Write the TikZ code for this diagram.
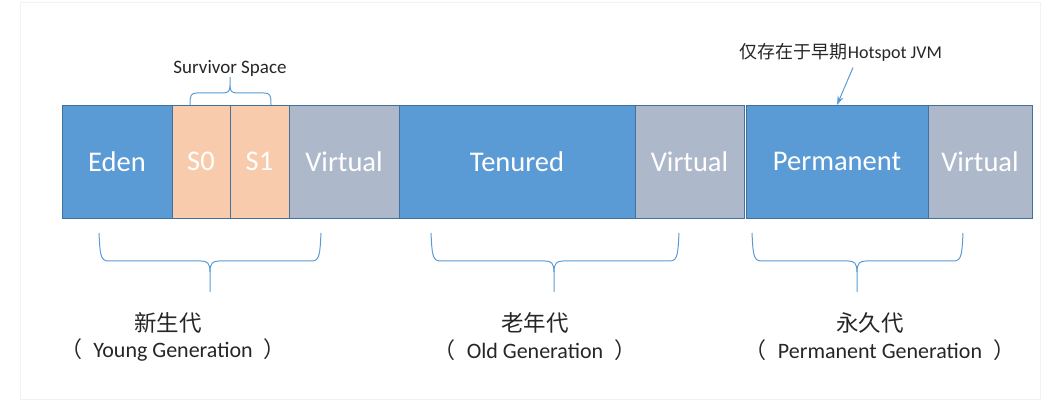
\documentclass[tikz,border=0pt]{standalone}
\usepackage{fontspec}
\setmainfont{Carlito}
\newfontfamily\cjk{Noto Sans CJK SC}
\usepackage{tikz}
\usetikzlibrary{arrows.meta, positioning}

\definecolor{heapblue}{HTML}{5B9BD5}
\definecolor{heapedge}{HTML}{41719C}
\definecolor{survpeach}{HTML}{F8CBAD}
\definecolor{virtgray}{HTML}{ADB9CA}
\definecolor{labeltext}{HTML}{262626}

\tikzset{
  area/.style={draw=heapedge, line width=0.9pt, inner sep=0pt, outer sep=0pt, minimum height=113pt,
    text=white, font=\fontsize{28.5}{33}\selectfont},
  brc/.style={draw=heapblue, line width=1pt},
  arr/.style={draw=heapblue, line width=1pt, -{Stealth[length=9pt,width=6pt]}},
  genzh/.style={text=labeltext, font=\cjk\fontsize{22.5}{26}\selectfont},
  genen/.style={text=labeltext, font=\fontsize{22}{26}\selectfont},
}

\begin{document}
\begin{tikzpicture}[x=1pt, y=-1pt]
    \useasboundingbox (0,0) rectangle (1058,411);
    \draw[black!5, line width=1pt] (20,3) rectangle (1040,400);

    % Heap areas
    \node[area, fill=heapblue, minimum width=110pt, anchor=north west] (eden) at (62,105) {Eden};
    \node[area, fill=survpeach, minimum width=58pt, right=0pt of eden] (s0) {S0};
    \node[area, fill=survpeach, minimum width=59pt, right=0pt of s0] (s1) {S1};
    \node[area, fill=virtgray, minimum width=110pt, right=0pt of s1] (virtyoung) {Virtual};
    \node[area, fill=heapblue, minimum width=236pt, right=0pt of virtyoung] (tenured) {Tenured};
    \node[area, fill=virtgray, minimum width=109pt, right=0pt of tenured] (virtold) {Virtual};
    \node[area, fill=heapblue, minimum width=182pt, right=2pt of virtold] (perm) {Permanent};
    \node[area, fill=virtgray, minimum width=104pt, right=0pt of perm] (virtperm) {Virtual};

    % Survivor brace
    \node[text=labeltext, font=\fontsize{19}{22}\selectfont] (survlbl) at (230,68) {Survivor Space};
    \draw[brc] (190,105) .. controls (190,95) and (191,93) .. (197,93) -- (223,93)
        .. controls (228,93) and (230,91) .. (230,86) -- (230,77);
    \draw[brc] (230,86) .. controls (230,91) and (232,93) .. (237,93) -- (264,93)
        .. controls (270,93) and (271,95) .. (271,105);

    % Note on permanent generation
    \node[font=\fontsize{18}{21}\selectfont, text=labeltext] (note) at (841,52) {{\cjk 仅存在于早期}Hotspot JVM};
    \draw[arr] ([xshift=12pt,yshift=-3pt]note.south) -- (perm.north);

    % Young generation brace
    \draw[brc] (99,233) .. controls (100,252) and (100,261) .. (108,261) -- (201,261)
        .. controls (207,261) and (210,263) .. (210,272) -- (210,292);
    \draw[brc] (210,272) .. controls (210,263) and (213,261) .. (219,261) -- (312,261)
        .. controls (320,261) and (320,252) .. (321,233);
    \node[genzh] (youngzh) at (168,323) {新生代};
    \node[genen] (youngen) at (173,350) {{\cjk （}\hspace{6pt} Young Generation \hspace{6pt}{\cjk ）}};

    % Old generation brace
    \draw[brc] (431,233) .. controls (432,252) and (432,261) .. (440,261) -- (545,261)
        .. controls (551,261) and (554,263) .. (554,272) -- (554,292);
    \draw[brc] (554,272) .. controls (554,263) and (557,261) .. (563,261) -- (670,261)
        .. controls (678,261) and (678,252) .. (679,233);
    \node[genzh] (oldzh) at (535,323) {老年代};
    \node[genen] (olden) at (535,350) {{\cjk （}\hspace{6pt} Old Generation \hspace{6pt}{\cjk ）}};

    % Permanent generation brace
    \draw[brc] (752,233) .. controls (753,252) and (753,261) .. (761,261) -- (848,261)
        .. controls (854,261) and (857,263) .. (857,272) -- (857,292);
    \draw[brc] (857,272) .. controls (857,263) and (860,261) .. (866,261) -- (954,261)
        .. controls (962,261) and (962,252) .. (963,233);
    \node[genzh] (permzh) at (870,323) {永久代};
    \node[genen] (permen) at (880,350) {{\cjk （}\hspace{6pt} Permanent Generation \hspace{6pt}{\cjk ）}};
\end{tikzpicture}
\end{document}
